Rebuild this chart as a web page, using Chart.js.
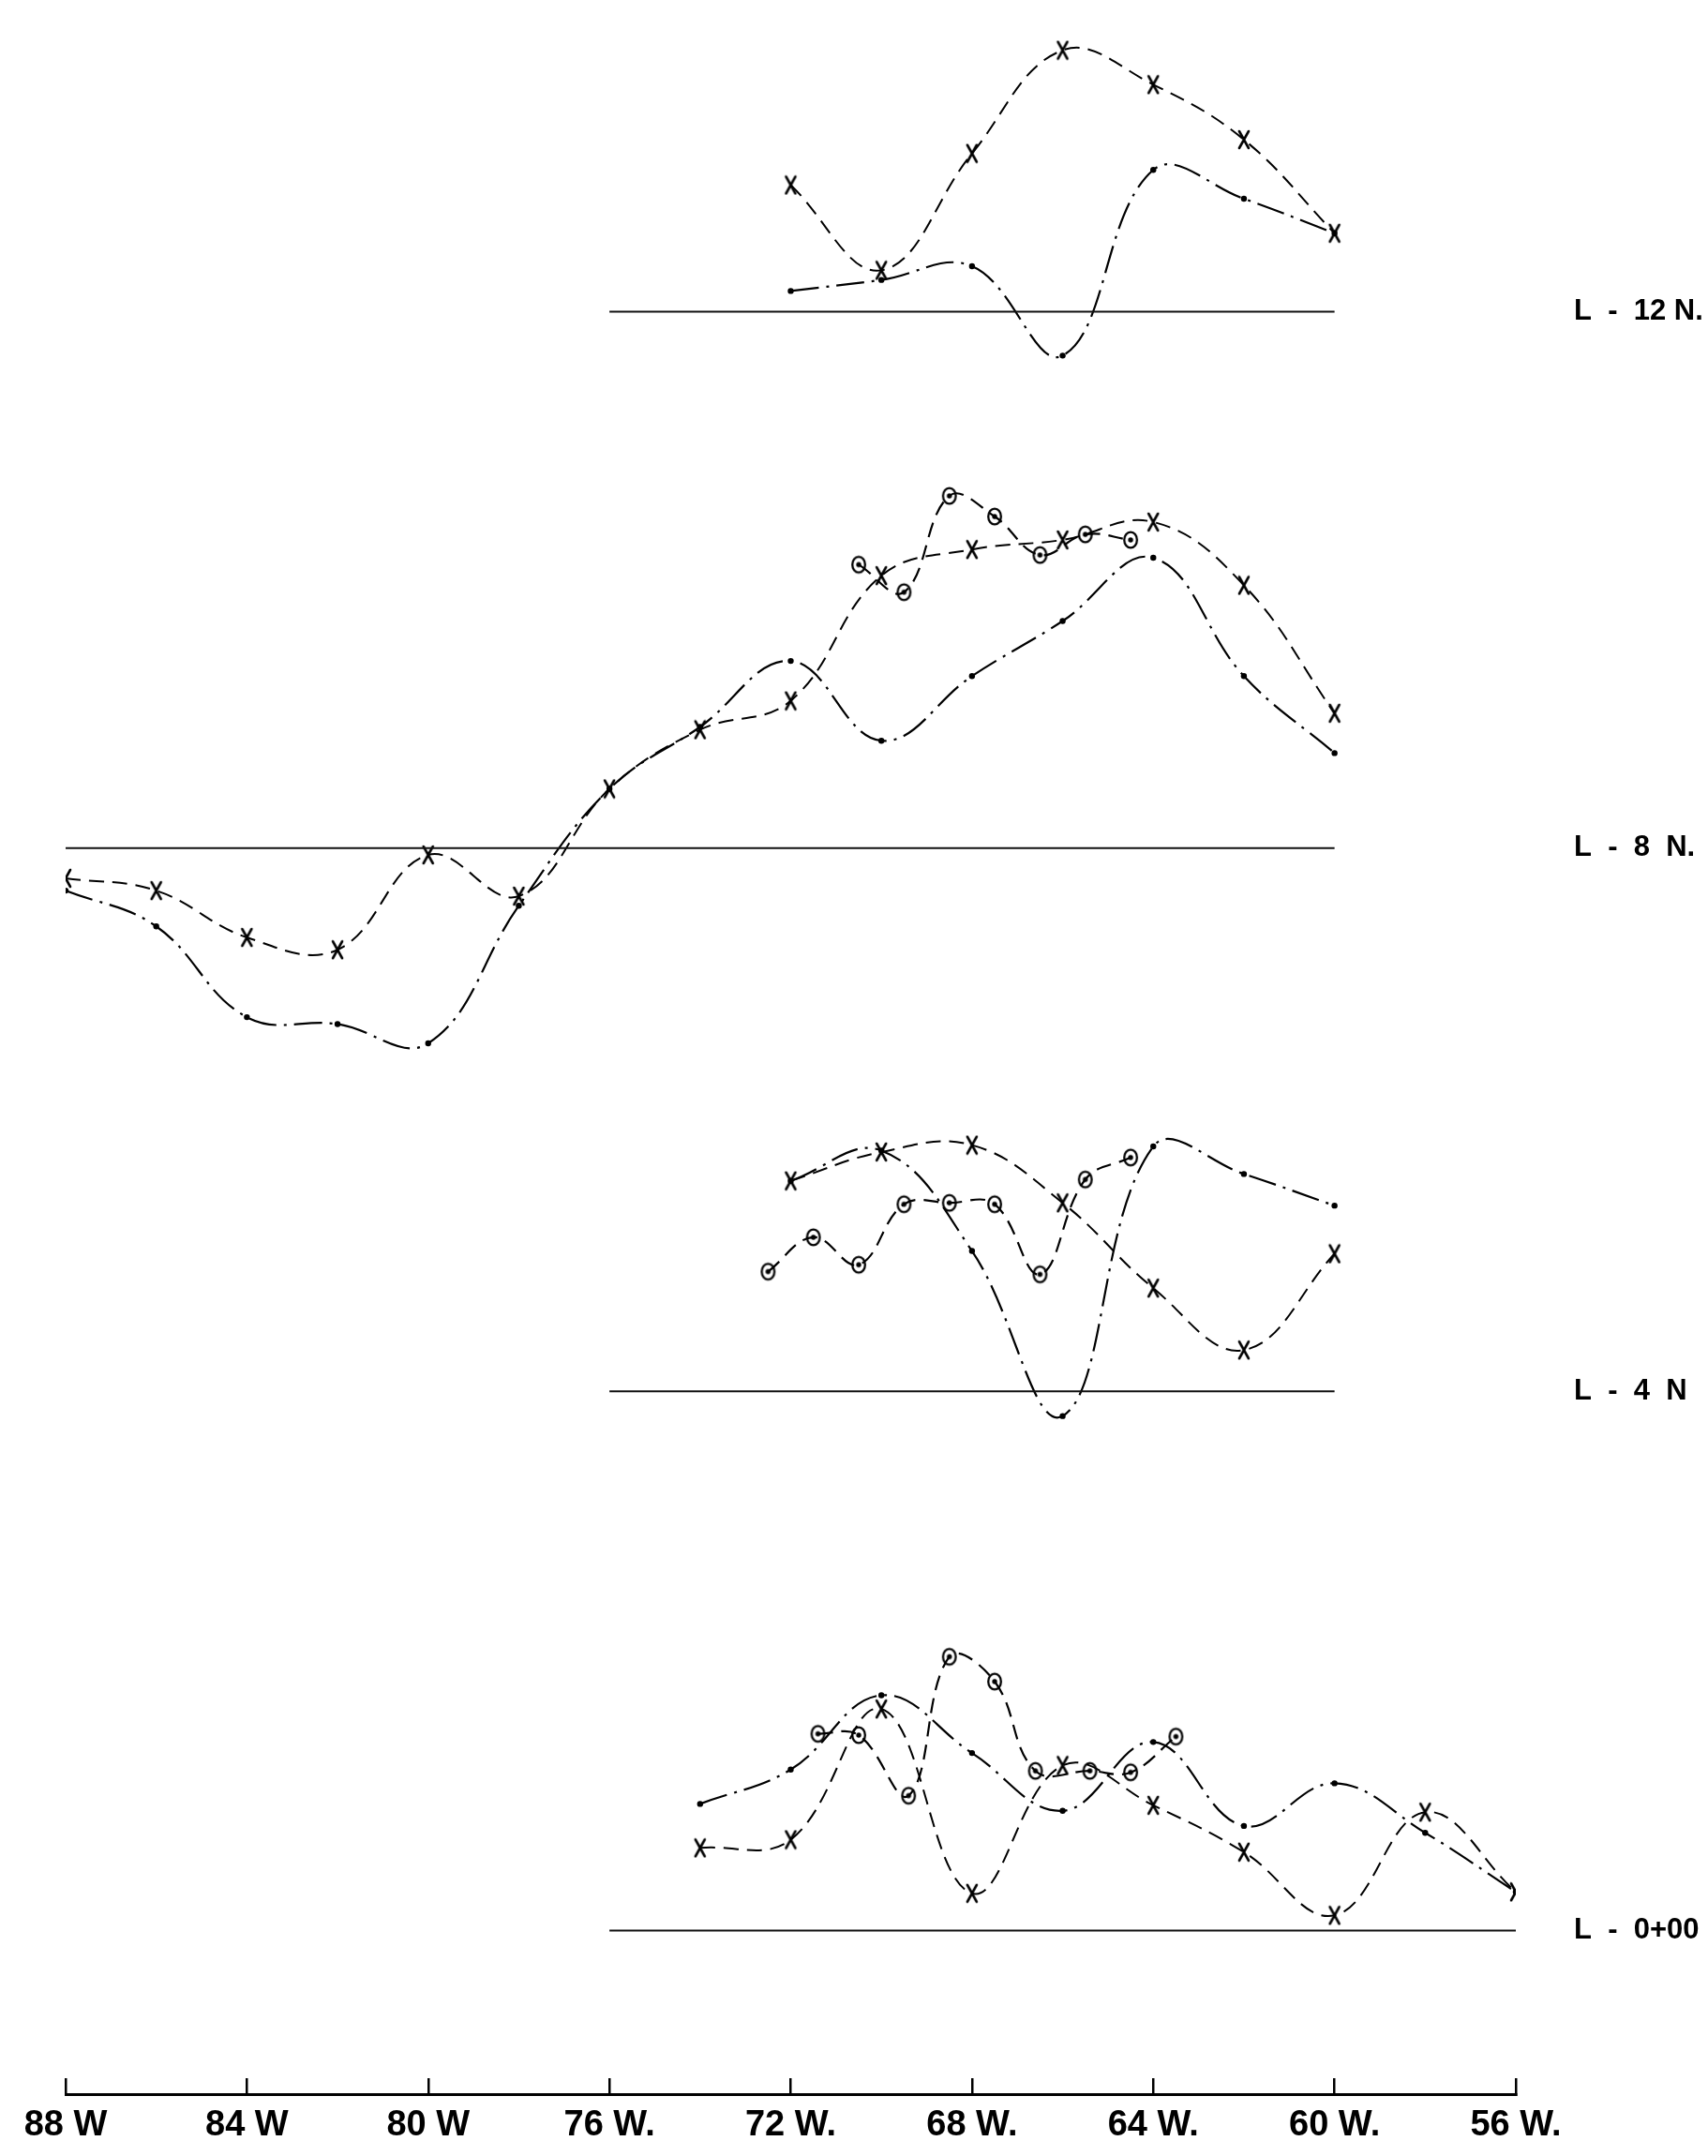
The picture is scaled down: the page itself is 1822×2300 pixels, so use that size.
<!DOCTYPE html>
<html lang="en">
<head>
    <meta charset="UTF-8">
    <title>Profiles L-12 N. to L-0+00</title>
    <style>
        html, body { margin: 0; padding: 0; background: #fff; overflow: hidden; }
        #wrap { width: 1822px; height: 2300px; }
    </style>
</head>
<body>
<div id="wrap">
    <canvas id="profile_canvas"></canvas>
</div>
<!--suppress JSUnresolvedLibraryURL -->
<script src="https://cdn.jsdelivr.net/npm/chart.js@4.4.0/dist/chart.umd.min.js"></script>
<script>
    // longitude ticks along the bottom (degrees west)
    const tickLon = [88, 84, 80, 76, 72, 68, 64, 60, 56];
    const tickText = ['88 W', '84 W', '80 W', '76 W.', '72 W.', '68 W.', '64 W.', '60 W.', '56 W.'];

    // line names, top to bottom (lettered wide, as on the sheet)
    const lineNames = ['L  -  12 N.', 'L  -  8  N.', 'L  -  4  N', 'L  -  0+00'];

    // each line's base runs between these longitudes
    const base12 = [76, 60];
    const base8 = [88, 60];
    const base4 = [76, 60];
    const base0 = [76, 56];

    // L-12 N.  readings above the base
    const lon12 = [72, 70, 68, 66, 64, 62, 60];
    const cross12 = [92, 30, 115, 190, 165, 125, 57];
    const dot12 = [15, 23, 33, -32, 103, 82, 57];

    // L-8 N.
    const lon8 = [88, 86, 84, 82, 80, 78, 76, 74, 72, 70, 68, 66, 64, 62, 60];
    const cross8 = [-22, -31, -65, -74, -5, -35, 43, 86, 107, 198, 217, 224, 237, 191, 98];
    const dot8 = [-31, -57, -123, -128, -142, -42, 43, 88, 136, 78, 125, 165, 211, 125, 69];
    const ringLon8 = [70.5, 69.5, 68.5, 67.5, 66.5, 65.5, 64.5];
    const ring8 = [206, 186, 256, 241, 213, 228, 224];

    // L-4 N
    const lon4 = [72, 70, 68, 66, 64, 62, 60];
    const cross4 = [153, 174, 179, 137, 75, 30, 100];
    const dot4 = [153, 175, 102, -18, 178, 158, 135];
    const ringLon4 = [72.5, 71.5, 70.5, 69.5, 68.5, 67.5, 66.5, 65.5, 64.5];
    const ring4 = [87, 112, 92, 136, 137, 136, 85, 154, 170];

    // L-0+00
    const lon0 = [74, 72, 70, 68, 66, 64, 62, 60, 58, 56];
    const cross0 = [60, 66, 161, 27, 120, 91, 57, 11, 86, 28];
    const dot0 = [92, 117, 171, 129, 87, 137, 76, 107, 71, 28];
    const ringLon0 = [71.4, 70.5, 69.4, 68.5, 67.5, 66.6, 65.4, 64.5, 63.5];
    const ring0 = [143, 142, 98, 199, 181, 116, 116, 115, 141];

    function pts(lons, vals) {
        return lons.map((x, i) => ({x: x, y: vals[i]}));
    }

    // hand-lettered marks used as point styles
    function ringMark() {
        const c = document.createElement('canvas');
        c.width = 20;
        c.height = 24;
        const g = c.getContext('2d');
        g.strokeStyle = '#000';
        g.lineWidth = 2.3;
        g.beginPath();
        g.ellipse(10, 12, 6.8, 8.4, 0, 0, Math.PI * 2);
        g.stroke();
        g.fillStyle = '#000';
        g.beginPath();
        g.arc(10, 12, 2.7, 0, Math.PI * 2);
        g.fill();
        return c;
    }

    function crossMark() {
        const c = document.createElement('canvas');
        c.width = 16;
        c.height = 22;
        const g = c.getContext('2d');
        g.strokeStyle = '#000';
        g.lineWidth = 2.6;
        g.lineCap = 'round';
        g.beginPath();
        g.moveTo(3, 2);
        g.lineTo(13, 20);
        g.moveTo(13, 2);
        g.lineTo(3, 20);
        g.stroke();
        return c;
    }
    const ringImg = ringMark();
    const crossImg = crossMark();

    function baseLine(span, axis) {
        return {
            data: pts(span, [0, 0]), yAxisID: axis,
            borderColor: '#111', borderWidth: 2, pointRadius: 0, tension: 0
        };
    }

    function crossLine(lons, vals, axis) {
        return {
            data: pts(lons, vals), yAxisID: axis,
            borderColor: '#000', borderWidth: 2, borderDash: [16, 9], tension: 0.4,
            pointStyle: crossImg, pointRadius: 8
        };
    }

    function dotLine(lons, vals, axis) {
        return {
            data: pts(lons, vals), yAxisID: axis,
            borderColor: '#000', borderWidth: 2.2, borderDash: [30, 8, 3, 8], tension: 0.4,
            pointStyle: 'circle', pointRadius: 3.2, pointBorderWidth: 0,
            pointBackgroundColor: '#000'
        };
    }

    function ringLine(lons, vals, axis) {
        return {
            data: pts(lons, vals), yAxisID: axis,
            borderColor: '#000', borderWidth: 2.2, borderDash: [16, 9], tension: 0.4,
            pointStyle: ringImg, pointRadius: 8
        };
    }

    function bandAxis(name, min, max) {
        return {
            type: 'linear', position: 'right', stack: 'profiles', stackWeight: max - min,
            min: min, max: max,
            afterBuildTicks: s => { s.ticks = [{value: 0}]; },
            afterFit: s => {
                s.width = 205;
                s.paddingTop = 0;
                s.paddingBottom = 0;
            },
            ticks: {
                callback: () => name, color: '#000', padding: 0,
                font: {family: "'Liberation Sans', Arial, sans-serif", size: 31, weight: 'bold'}
            },
            // the hidden tick length sets the gap before the line name
            grid: {display: false, drawTicks: true, tickLength: 62},
            border: {display: false}
        };
    }

    const config = {
        type: 'line',
        data: {
            datasets: [
                baseLine(base12, 'y12'), crossLine(lon12, cross12, 'y12'), dotLine(lon12, dot12, 'y12'),
                baseLine(base8, 'y8'), crossLine(lon8, cross8, 'y8'), dotLine(lon8, dot8, 'y8'),
                ringLine(ringLon8, ring8, 'y8'),
                baseLine(base4, 'y4'), crossLine(lon4, cross4, 'y4'), dotLine(lon4, dot4, 'y4'),
                ringLine(ringLon4, ring4, 'y4'),
                baseLine(base0, 'y0'), crossLine(lon0, cross0, 'y0'), dotLine(lon0, dot0, 'y0'),
                ringLine(ringLon0, ring0, 'y0')
            ]
        },
        options: {
            responsive: true,
            maintainAspectRatio: false,
            animation: false,
            devicePixelRatio: 1,
            layout: {padding: {top: 36, left: 70, right: 0, bottom: 0}},
            plugins: {
                legend: {display: false},
                tooltip: {enabled: false}
            },
            scales: {
                x: {
                    type: 'linear', position: 'bottom', reverse: true, min: 56, max: 88,
                    afterBuildTicks: s => { s.ticks = tickLon.map(v => ({value: v})); },
                    afterFit: s => {
                        s.height = 66;
                        s.paddingLeft = 0;
                        s.paddingRight = 0;
                    },
                    ticks: {
                        callback: v => tickText[tickLon.indexOf(v)],
                        color: '#000', padding: 28, maxRotation: 0, autoSkip: false,
                        font: {family: "'Liberation Sans', Arial, sans-serif", size: 38, weight: 'bold'}
                    },
                    // negative tick length turns the tick marks up from the axis line
                    grid: {drawOnChartArea: false, tickLength: -17, color: '#000', lineWidth: 2.5},
                    border: {color: '#000', width: 3}
                },
                y12: bandAxis(lineNames[0], -63, 202),
                y8: bandAxis(lineNames[1], -193, 327),
                y4: bandAxis(lineNames[2], -78, 202),
                y0: bandAxis(lineNames[3], -119, 314)
            }
        }
    };

    const profile_context = document.getElementById('profile_canvas').getContext('2d');
    const profileChart = new Chart(profile_context, config);
</script>
</body>
</html>
